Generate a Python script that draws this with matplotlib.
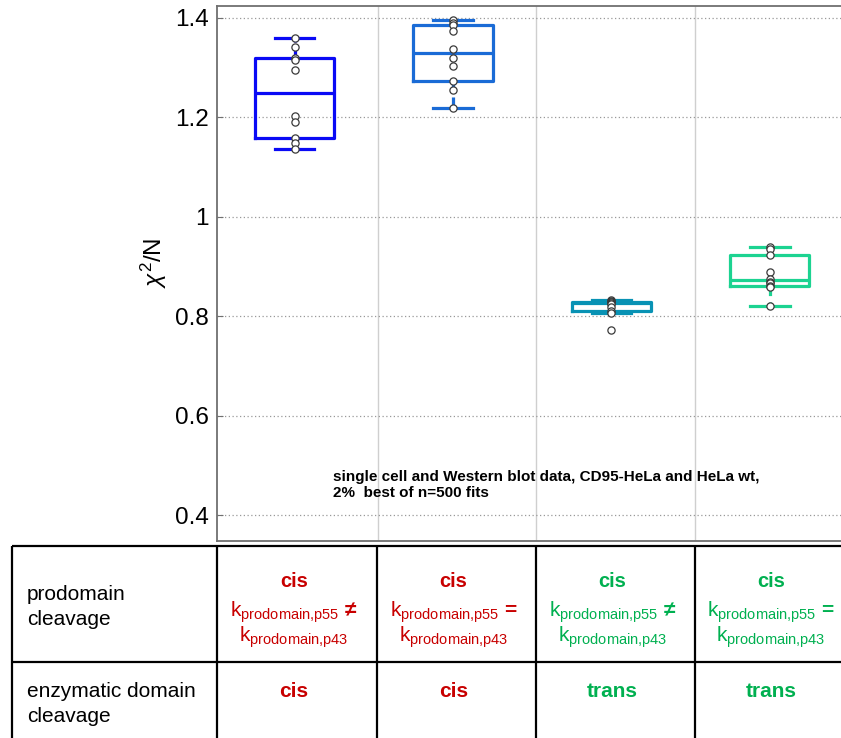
import matplotlib.pyplot as plt
import numpy as np

plt.rcParams["font.family"] = ["Liberation Sans", "DejaVu Sans"]
plt.rcParams["mathtext.fontset"] = "custom"
plt.rcParams["mathtext.rm"] = "Liberation Sans"
plt.rcParams["mathtext.it"] = "Liberation Sans:italic"
plt.rcParams["mathtext.bf"] = "Liberation Sans:bold"

# chi^2/N of the 10 best fits (2% of n=500) per model variant
fit_cis_neq = [1.359, 1.342, 1.319, 1.316, 1.295, 1.203, 1.190, 1.159, 1.148, 1.137]
fit_cis_eq = [1.395, 1.389, 1.385, 1.374, 1.338, 1.320, 1.304, 1.274, 1.256, 1.218]
fit_trans_neq = [0.832, 0.830, 0.829, 0.828, 0.827, 0.825, 0.818, 0.811, 0.806, 0.773]
fit_trans_eq = [0.939, 0.936, 0.924, 0.890, 0.875, 0.869, 0.866, 0.861, 0.858, 0.820]
box_colors = ["#0a0af5", "#1a6bd6", "#0892b4", "#1cd391"]

yticks = [0.4, 0.6, 0.8, 1.0, 1.2, 1.4]
ytick_labels = ["0.4", "0.6", "0.8", "1", "1.2", "1.4"]

row_labels = [["prodomain", "cleavage"], ["enzymatic domain", "cleavage"]]
prodomain_mode = ["cis", "cis", "cis", "cis"]
rate_relation = ["\u2260", "=", "\u2260", "="]
enzymatic_mode = ["cis", "cis", "trans", "trans"]
text_colors = ["#c80000", "#c80000", "#00b050", "#00b050"]

note = "single cell and Western blot data, CD95-HeLa and HeLa wt,\n2%  best of n=500 fits"


def box_stats(values):
    v = np.asarray(values, dtype=float)
    q1, med, q3 = np.percentile(v, [25, 50, 75], method="hazen")
    iqr = q3 - q1
    inside = v[(v >= q1 - 1.5 * iqr) & (v <= q3 + 1.5 * iqr)]
    return dict(med=med, q1=q1, q3=q3, whislo=inside.min(), whishi=inside.max(), fliers=[])


W, H = 841, 738
fig = plt.figure(figsize=(W / 100, H / 100), dpi=100)
ax = fig.add_axes([217 / W, (H - 541) / H, (853 - 217) / W, 535 / H])

groups = [fit_cis_neq, fit_cis_eq, fit_trans_neq, fit_trans_eq]
positions = np.arange(1, len(groups) + 1)
for pos, vals, col in zip(positions, groups, box_colors):
    lw = 2.3
    ax.bxp(
        [box_stats(vals)],
        positions=[pos],
        widths=0.5,
        capwidths=0.25,
        showfliers=False,
        boxprops=dict(color=col, linewidth=lw),
        medianprops=dict(color=col, linewidth=lw),
        whiskerprops=dict(color=col, linewidth=lw, linestyle=(0, (3, 2))),
        capprops=dict(color=col, linewidth=lw),
        zorder=3,
    )
    ax.plot(
        np.full(len(vals), pos), vals, "o",
        mfc="white", mec="#3a3a3a", mew=0.9, ms=5.2, zorder=4,
    )

ax.set_xlim(0.51, 4.525)
ax.set_ylim(0.348, 1.424)
ax.set_yticks(yticks)
ax.set_yticklabels(ytick_labels, fontsize=17.5)
ax.set_xticks([1.525, 2.525, 3.525])
ax.set_xticklabels([])
ax.tick_params(axis="x", length=0)
ax.tick_params(axis="y", direction="in", length=4, color="#707070", pad=6)
ax.yaxis.grid(True, linestyle=(0, (1, 2)), color="#999999", linewidth=0.9)
ax.xaxis.grid(True, linestyle="-", color="#cfcfcf", linewidth=1.0)
ax.set_axisbelow(True)
for sp in ax.spines.values():
    sp.set_color("#707070")
    sp.set_linewidth(1.3)

ax.set_ylabel(r"$\chi^{2}$/N", fontsize=17.5)
ax.yaxis.set_label_coords(-0.075, 0.52)

# overlay in pixel units for the note and the table below the plot
tab = fig.add_axes([0, 0, 1, 1])
tab.set_xlim(0, W)
tab.set_ylim(H, 0)
tab.axis("off")

tab.text(333, 470, note, fontsize=11, fontweight="bold", va="top", ha="left",
         linespacing=1.2)

col_edges = [12, 217, 377, 536, 695, 853]
tab.hlines([546, 662], col_edges[0], col_edges[-1], color="black", linewidth=1.6)
tab.vlines(col_edges[:-1], 546, H + 5, color="black", linewidth=1.6)

tab.text(27, 600, row_labels[0][0], fontsize=15, va="baseline")
tab.text(27, 625, row_labels[0][1], fontsize=15, va="baseline")
tab.text(27, 697, row_labels[1][0], fontsize=15, va="baseline")
tab.text(27, 722, row_labels[1][1], fontsize=15, va="baseline")

for i in range(4):
    cx = (col_edges[i + 1] + col_edges[i + 2]) / 2 - 3
    c = text_colors[i]
    tab.text(cx, 587, prodomain_mode[i], color=c, fontsize=14.5, fontweight="bold",
             ha="center", va="baseline")
    tab.text(cx, 617, r"$\mathrm{k}_{\mathrm{prodomain{,}p55}}$ " + rate_relation[i],
             color=c, fontsize=15, fontweight="bold", ha="center", va="baseline")
    tab.text(cx, 642, r"$\mathrm{k}_{\mathrm{prodomain{,}p43}}$",
             color=c, fontsize=15, ha="center", va="baseline")
    tab.text(cx, 697, enzymatic_mode[i], color=c, fontsize=15, fontweight="bold",
             ha="center", va="baseline")

fig.savefig("out.png", dpi=100)
